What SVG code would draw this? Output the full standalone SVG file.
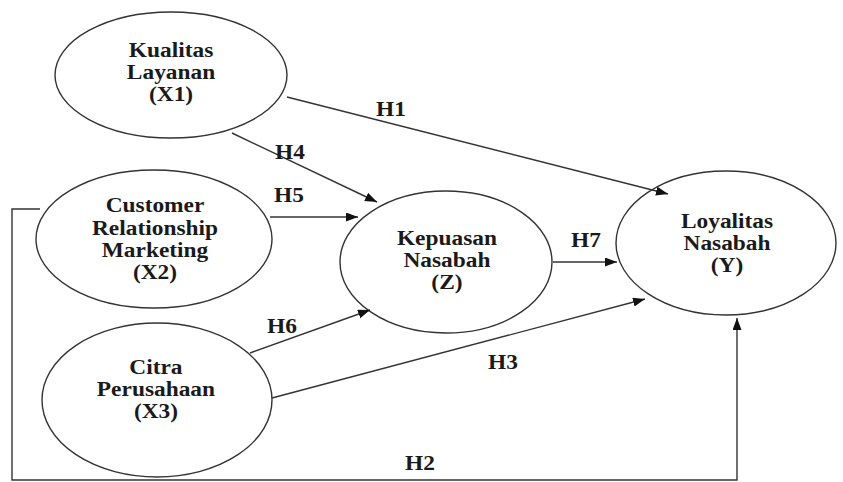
<svg xmlns="http://www.w3.org/2000/svg" width="843" height="482" viewBox="0 0 843 482">
<style>
.node ellipse{fill:#fff;stroke:#333;stroke-width:1.4}
.lbl{font-family:"Liberation Serif","Times New Roman",serif;font-weight:bold;font-size:20px;fill:#1a1a1a;text-anchor:middle}
.conn line,.conn polyline{stroke:#333;stroke-width:1.4;fill:none}
</style>
<defs>
<marker id="arr" markerUnits="userSpaceOnUse" markerWidth="13" markerHeight="10" refX="12" refY="4.5" orient="auto">
<path d="M0,0 L12,4.5 L0,9 z" fill="#111"/>
</marker>
</defs>
<rect width="843" height="482" fill="#fff"/>
<g id="X1" class="node">
<ellipse cx="171" cy="75" rx="116" ry="63"/>
<g transform="scale(1.17 1)">
<text class="lbl" x="146.2" y="57">Kualitas</text>
<text class="lbl" x="146.2" y="79">Layanan</text>
<text class="lbl" x="146.2" y="101">(X1)</text>
</g>
</g>
<g id="X2" class="node">
<ellipse cx="154" cy="239" rx="118" ry="69"/>
<g transform="scale(1.17 1)">
<text class="lbl" x="132.5" y="212">Customer</text>
<text class="lbl" x="132.5" y="235">Relationship</text>
<text class="lbl" x="132.5" y="257">Marketing</text>
<text class="lbl" x="132.5" y="279">(X2)</text>
</g>
</g>
<g id="X3" class="node">
<ellipse cx="157" cy="400" rx="115" ry="77"/>
<g transform="scale(1.17 1)">
<text class="lbl" x="133.3" y="374">Citra</text>
<text class="lbl" x="133.3" y="396">Perusahaan</text>
<text class="lbl" x="133.3" y="418">(X3)</text>
</g>
</g>
<g id="Z" class="node">
<ellipse cx="446" cy="262" rx="106" ry="71"/>
<g transform="scale(1.17 1)">
<text class="lbl" x="382" y="245">Kepuasan</text>
<text class="lbl" x="382" y="267">Nasabah</text>
<text class="lbl" x="382" y="289">(Z)</text>
</g>
</g>
<g id="Y" class="node">
<ellipse cx="726" cy="243" rx="110" ry="72"/>
<g transform="scale(1.17 1)">
<text class="lbl" x="621.4" y="228">Loyalitas</text>
<text class="lbl" x="621.4" y="250">Nasabah</text>
<text class="lbl" x="621.4" y="272">(Y)</text>
</g>
</g>
<g id="connectors" class="conn">
<line x1="287" y1="97" x2="668" y2="194" marker-end="url(#arr)"/>
<line x1="232" y1="133" x2="377" y2="202" marker-end="url(#arr)"/>
<line x1="270" y1="217" x2="358" y2="217" marker-end="url(#arr)"/>
<line x1="250" y1="353" x2="370" y2="310" marker-end="url(#arr)"/>
<line x1="272" y1="398" x2="645" y2="299" marker-end="url(#arr)"/>
<line x1="553" y1="262" x2="617" y2="262" marker-end="url(#arr)"/>
<polyline points="40,209 12,209 12,480 737,480 737,318" marker-end="url(#arr)"/>
<g transform="scale(1.17 1)">
<text class="lbl" x="334.2" y="116">H1</text>
<text class="lbl" x="247.9" y="159">H4</text>
<text class="lbl" x="247" y="202">H5</text>
<text class="lbl" x="500.9" y="247">H7</text>
<text class="lbl" x="241" y="333">H6</text>
<text class="lbl" x="429.9" y="369">H3</text>
<text class="lbl" x="359" y="470">H2</text>
</g>
</g>
</svg>
